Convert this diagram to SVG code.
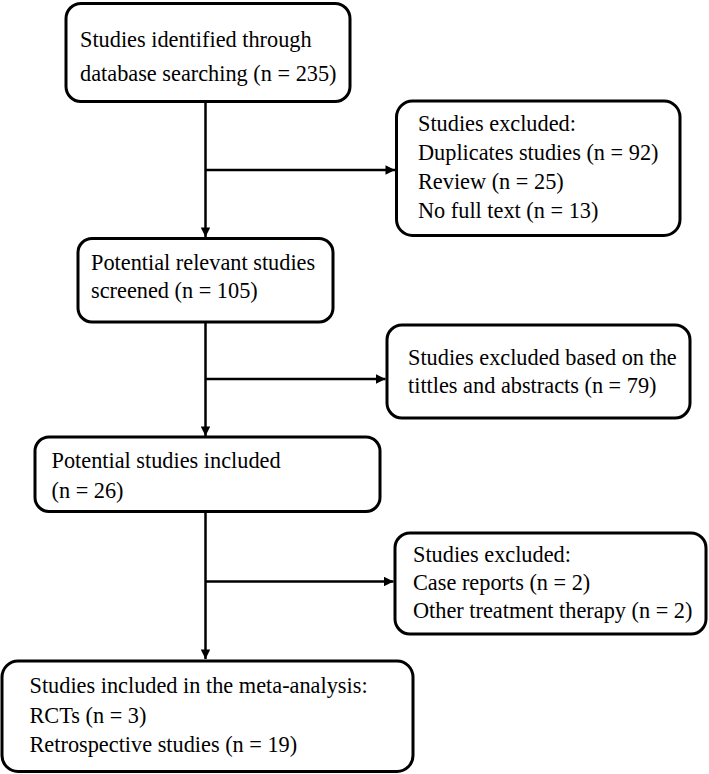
<svg xmlns="http://www.w3.org/2000/svg" width="709" height="774" viewBox="0 0 709 774">
<style>
.box{fill:#fff;stroke:#000;stroke-width:3}
.t{font-size:22.3px;fill:#000}
.c{stroke:#000;stroke-width:2.5;fill:none}
</style>
<defs>
<marker id="ah" viewBox="0 0 10 10" refX="10" refY="5" markerWidth="4" markerHeight="3.8" orient="auto" markerUnits="strokeWidth">
<path d="M0,0 L10,5 L0,10 z" fill="#000"/>
</marker>
</defs>
<rect width="709" height="774" fill="#fff"/>
<g id="connectors">
<line class="c" x1="205.5" y1="102" x2="205.5" y2="237" marker-end="url(#ah)"/>
<line class="c" x1="205.5" y1="170" x2="395" y2="170" marker-end="url(#ah)"/>
<line class="c" x1="205.5" y1="322" x2="205.5" y2="436" marker-end="url(#ah)"/>
<line class="c" x1="205.5" y1="379" x2="385.5" y2="379" marker-end="url(#ah)"/>
<line class="c" x1="205.5" y1="512" x2="205.5" y2="659" marker-end="url(#ah)"/>
<line class="c" x1="205.5" y1="581.5" x2="393.5" y2="581.5" marker-end="url(#ah)"/>
</g>
<g id="n1">
<rect class="box" x="66" y="3.5" width="284" height="98" rx="15"/>
<text class="t" font-family="Liberation Serif" x="80" y="47">Studies identified through</text>
<text class="t" font-family="Liberation Serif" x="80" y="81">database searching (n = 235)</text>
</g>
<g id="n2">
<rect class="box" x="396.5" y="101" width="283.5" height="134.5" rx="16"/>
<text class="t" font-family="Liberation Serif" x="418" y="131">Studies excluded:</text>
<text class="t" font-family="Liberation Serif" x="418" y="160">Duplicates studies (n = 92)</text>
<text class="t" font-family="Liberation Serif" x="418" y="189">Review (n = 25)</text>
<text class="t" font-family="Liberation Serif" x="418" y="218">No full text (n = 13)</text>
</g>
<g id="n3">
<rect class="box" x="78" y="238.5" width="255" height="83.5" rx="14"/>
<text class="t" font-family="Liberation Serif" x="91" y="270">Potential relevant studies</text>
<text class="t" font-family="Liberation Serif" x="91" y="298">screened (n = 105)</text>
</g>
<g id="n4">
<rect class="box" x="387" y="325" width="303" height="93" rx="15"/>
<text class="t" font-family="Liberation Serif" x="408" y="365">Studies excluded based on the</text>
<text class="t" font-family="Liberation Serif" x="408" y="393">tittles and abstracts (n = 79)</text>
</g>
<g id="n5">
<rect class="box" x="35" y="437" width="345" height="74.5" rx="14"/>
<text class="t" font-family="Liberation Serif" x="51.5" y="468">Potential studies included</text>
<text class="t" font-family="Liberation Serif" x="51.5" y="498">(n = 26)</text>
</g>
<g id="n6">
<rect class="box" x="395" y="533" width="311" height="101" rx="15"/>
<text class="t" font-family="Liberation Serif" x="413" y="561.5">Studies excluded:</text>
<text class="t" font-family="Liberation Serif" x="413" y="590">Case reports (n = 2)</text>
<text class="t" font-family="Liberation Serif" x="413" y="618">Other treatment therapy (n = 2)</text>
</g>
<g id="n7">
<rect class="box" x="2" y="661" width="411" height="110.5" rx="16"/>
<text class="t" font-family="Liberation Serif" x="29.5" y="693">Studies included in the meta-analysis:</text>
<text class="t" font-family="Liberation Serif" x="29.5" y="722.5">RCTs (n = 3)</text>
<text class="t" font-family="Liberation Serif" x="29.5" y="751.5">Retrospective studies (n = 19)</text>
</g>
</svg>
